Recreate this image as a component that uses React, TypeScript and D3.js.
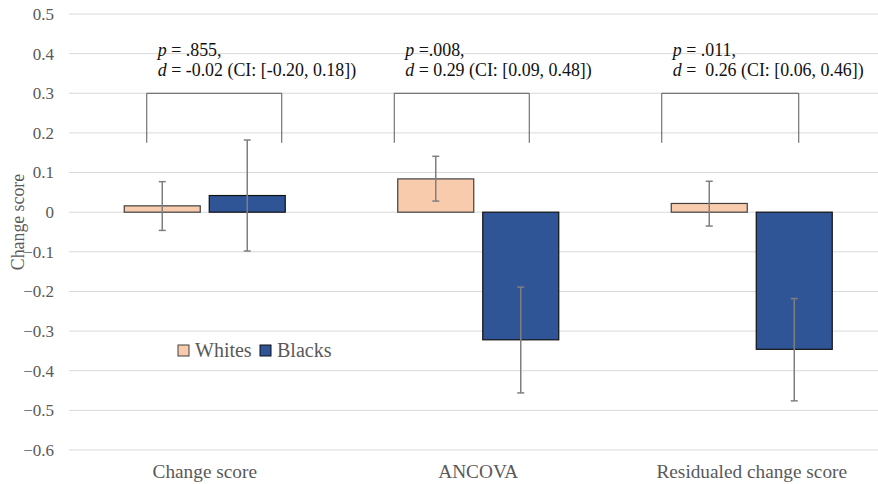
import React from "react";
import * as d3 from "d3";

const categories = ["Change score", "ANCOVA", "Residualed change score"];
const series = ["Whites", "Blacks"];
const whites = [0.016, 0.084, 0.022];
const blacks = [0.042, -0.322, -0.346];
const whitesLow = [-0.046, 0.028, -0.035];
const whitesHigh = [0.077, 0.141, 0.078];
const blacksLow = [-0.098, -0.456, -0.476];
const blacksHigh = [0.182, -0.189, -0.218];
const yTicks = [0.5, 0.4, 0.3, 0.2, 0.1, 0, -0.1, -0.2, -0.3, -0.4, -0.5, -0.6];
const pLabels = ["p = .855,", "p =.008,", "p = .011,"];
const dLabels = [
  " = -0.02 (CI: [-0.20, 0.18])",
  " = 0.29 (CI: [0.09, 0.48])",
  " =  0.26 (CI: [0.06, 0.46])",
];
// bracket extents as offsets (in px) from the group centre, and value levels
const bracketLeft = [-58, -84, -90];
const bracketRight = [77, 51, 47];
const bracketTop = 0.3;
const bracketBottom = 0.175;
const colors = ["#F8CBAD", "#2F5597"];
const strokes = ["#404040", "#111111"];

export default function App() {
  const W = 878, H = 484;
  const left = 68, bandW = 273.5;
  const x = d3.scaleBand<string>().domain(categories).range([left, left + bandW * 3]).paddingInner(0).paddingOuter(0);
  const y = d3.scaleLinear().domain([-0.6, 0.5]).range([450, 14]);
  const barW = 76, gap = 9;
  const vals = [whites, blacks];
  const lows = [whitesLow, blacksLow];
  const highs = [whitesHigh, blacksHigh];

  return (
    <svg
      width={W}
      height={H}
      style={{ position: "absolute", left: 0, top: 0, background: "#fff", fontFamily: "'Liberation Serif', Tinos, 'Times New Roman', serif" }}
    >
      {yTicks.map((t) => (
        <g key={t}>
          <line x1={69} x2={878} y1={y(t)} y2={y(t)} stroke="#D9D9D9" strokeWidth={1} />
          <text x={54} y={y(t)} dy="0.35em" textAnchor="end" fontSize={17} fill="#595959">
            {t === 0 ? "0" : d3.format(".1f")(t)}
          </text>
        </g>
      ))}
      <text transform={`translate(24,222) rotate(-90)`} textAnchor="middle" fontSize={17.8} fill="#595959">
        Change score
      </text>
      {categories.map((c, i) => {
        const cx = x(c)! + x.bandwidth() / 2;
        return (
          <g key={c}>
            {series.map((s, j) => {
              const bx = j === 0 ? cx - gap / 2 - barW : cx + gap / 2;
              const v = vals[j][i];
              const ex = bx + barW / 2;
              return (
                <g key={s}>
                  <rect
                    x={bx}
                    y={Math.min(y(v), y(0))}
                    width={barW}
                    height={Math.abs(y(v) - y(0))}
                    fill={colors[j]}
                    stroke={strokes[j]}
                    strokeWidth={1.2}
                  />
                  <line x1={ex} x2={ex} y1={y(highs[j][i])} y2={y(lows[j][i])} stroke="#7F7F7F" strokeWidth={1.5} />
                  <line x1={ex - 3.5} x2={ex + 3.5} y1={y(highs[j][i])} y2={y(highs[j][i])} stroke="#7F7F7F" strokeWidth={1.5} />
                  <line x1={ex - 3.5} x2={ex + 3.5} y1={y(lows[j][i])} y2={y(lows[j][i])} stroke="#7F7F7F" strokeWidth={1.5} />
                </g>
              );
            })}
            <path
              d={`M${cx + bracketLeft[i]},${y(bracketBottom)}V${y(bracketTop)}H${cx + bracketRight[i]}V${y(bracketBottom)}`}
              fill="none"
              stroke="#595959"
              strokeWidth={1}
            />
            <text x={cx + bracketLeft[i] + 11} y={56} fontSize={17.9} fill="#111">
              <tspan fontStyle="italic">p</tspan>
              {pLabels[i].slice(1)}
            </text>
            <text x={cx + bracketLeft[i] + 11} y={76} fontSize={17.9} fill="#111" style={{ whiteSpace: "pre" }}>
              <tspan fontStyle="italic">d</tspan>
              {dLabels[i]}
            </text>
            <text x={cx} y={478} textAnchor="middle" fontSize={19.3} fill="#595959">
              {c}
            </text>
          </g>
        );
      })}
      {series.map((s, j) => {
        const lx = j === 0 ? 178 : 260;
        return (
          <g key={s}>
            <rect x={lx} y={345} width={11} height={11} fill={colors[j]} stroke={strokes[j]} strokeWidth={1} />
            <text x={lx + 17} y={357} fontSize={20} fill="#595959">
              {s}
            </text>
          </g>
        );
      })}
    </svg>
  );
}
